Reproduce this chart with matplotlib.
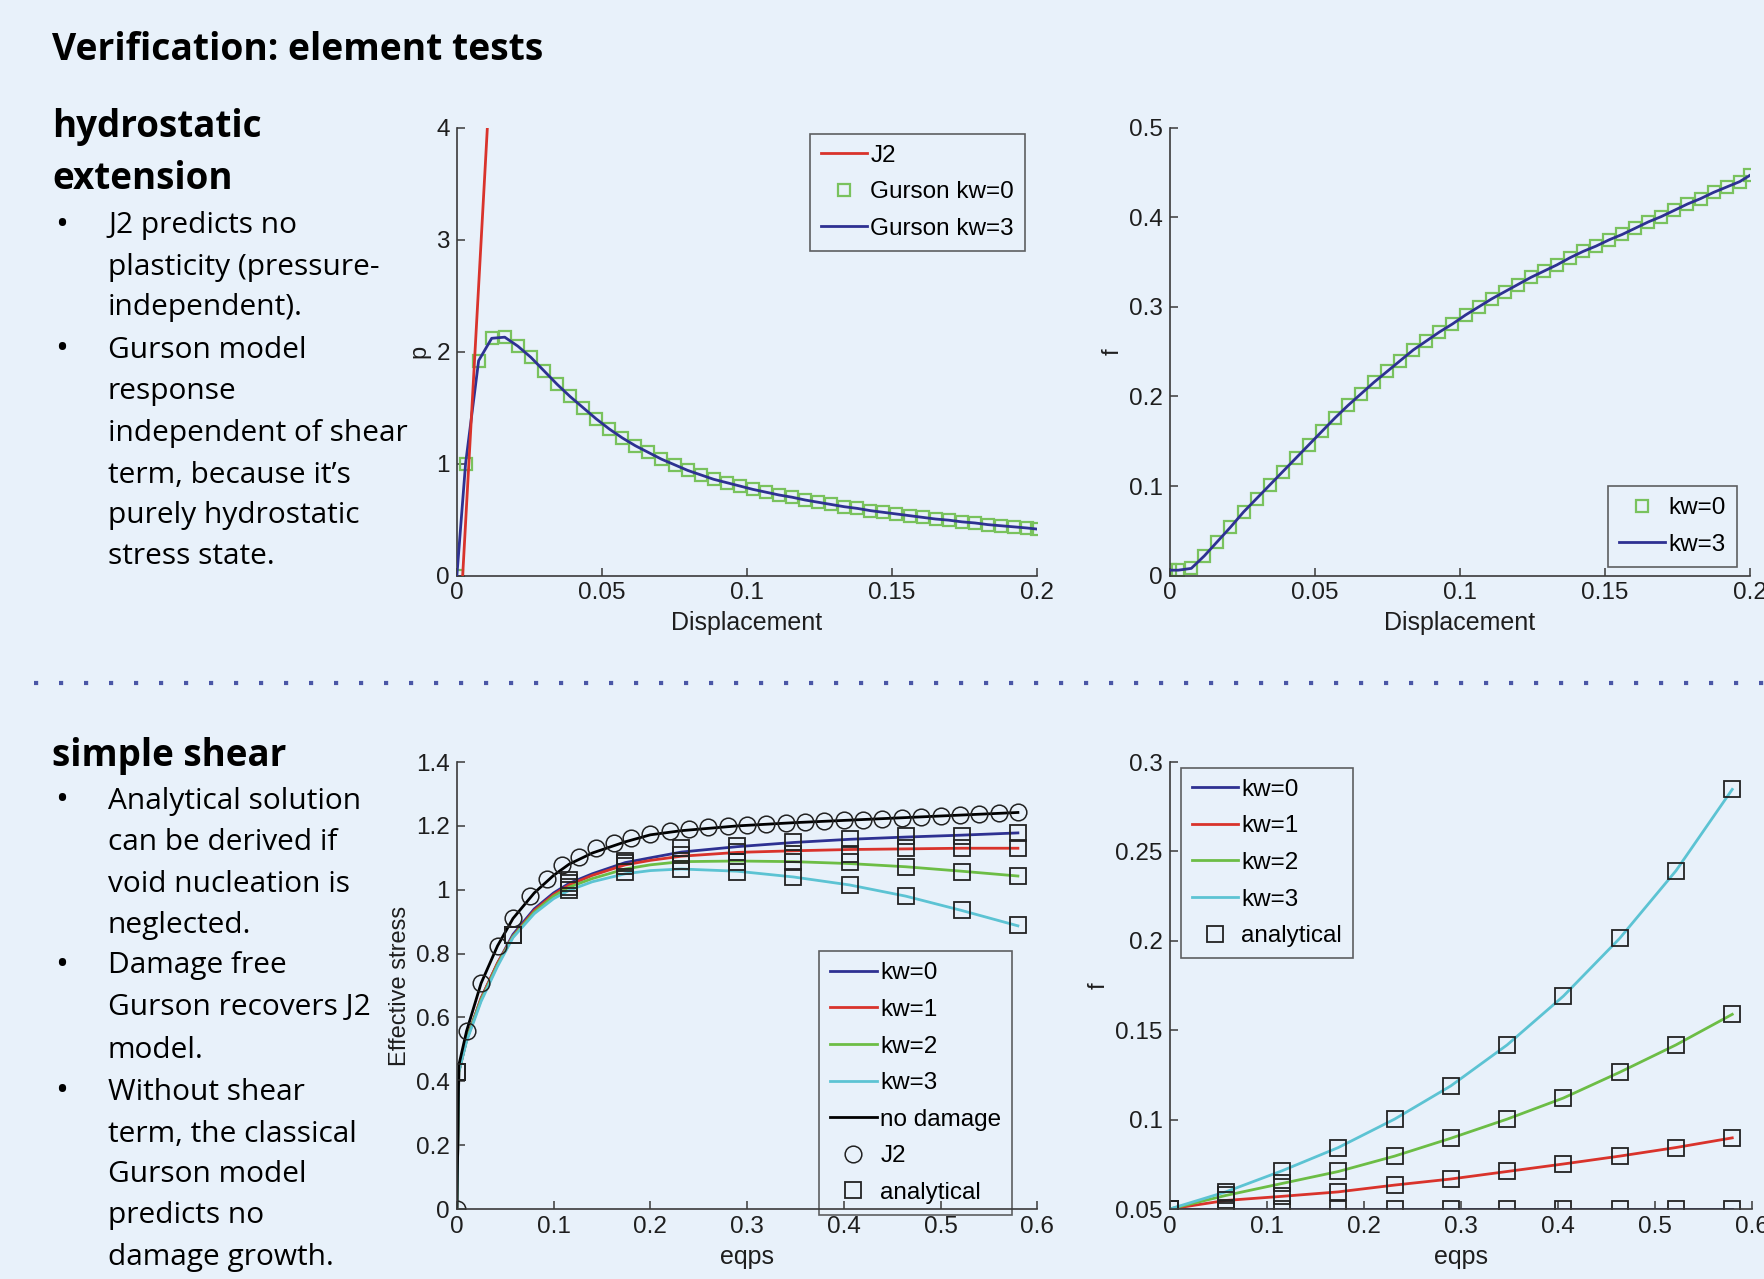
import matplotlib
matplotlib.use("Agg")
import matplotlib.pyplot as plt
from matplotlib.lines import Line2D

# ---- hydrostatic extension: p and f vs displacement (Gurson kw=0 == kw=3)
hyd_disp = [0, 0.003, 0.0075, 0.012, 0.0165, 0.021, 0.0255, 0.030, 0.0345, 0.039,
            0.0435, 0.048, 0.0525, 0.057, 0.0615, 0.066, 0.0705, 0.075, 0.0795, 0.084,
            0.0885, 0.093, 0.0975, 0.102, 0.1065, 0.111, 0.1155, 0.120, 0.1245, 0.129,
            0.1335, 0.138, 0.1425, 0.147, 0.1515, 0.156, 0.1605, 0.165, 0.1695, 0.174,
            0.1785, 0.183, 0.1875, 0.192, 0.1965, 0.2]
hyd_p = [0, 1.0, 1.92, 2.12, 2.13, 2.05, 1.95, 1.83, 1.71, 1.60,
         1.50, 1.40, 1.31, 1.23, 1.16, 1.10, 1.04, 0.99, 0.94, 0.90,
         0.86, 0.83, 0.80, 0.77, 0.745, 0.72, 0.70, 0.675, 0.655, 0.635,
         0.615, 0.60, 0.58, 0.565, 0.55, 0.535, 0.52, 0.505, 0.495, 0.48,
         0.47, 0.455, 0.445, 0.435, 0.425, 0.415]
hyd_f = [0.006, 0.006, 0.008, 0.022, 0.038, 0.054, 0.071, 0.086, 0.101, 0.116,
         0.131, 0.146, 0.161, 0.176, 0.19, 0.203, 0.216, 0.228, 0.240, 0.252,
         0.262, 0.272, 0.281, 0.291, 0.300, 0.309, 0.317, 0.325, 0.333, 0.340,
         0.347, 0.355, 0.362, 0.368, 0.375, 0.381, 0.388, 0.395, 0.401, 0.408,
         0.415, 0.421, 0.428, 0.434, 0.440, 0.447]
j2_disp = [0.002, 0.0105]
j2_p = [0, 4.0]

# ---- simple shear: effective stress and f vs eqps
line_eqps = [0, 0.002, 0.01, 0.025, 0.042, 0.058, 0.08, 0.1, 0.116, 0.14,
             0.174, 0.2, 0.232, 0.29, 0.348, 0.406, 0.464, 0.522, 0.58]
seff_nodmg = [0, 0.45, 0.557, 0.707, 0.824, 0.91, 0.99, 1.045, 1.08, 1.115,
              1.15, 1.172, 1.185, 1.2, 1.21, 1.218, 1.226, 1.234, 1.242]
seff_kw0 = [0, 0.43, 0.53, 0.66, 0.77, 0.86, 0.94, 0.99, 1.02, 1.05,
            1.085, 1.10, 1.118, 1.135, 1.148, 1.158, 1.165, 1.171, 1.178]
seff_kw1 = [0, 0.43, 0.53, 0.66, 0.77, 0.855, 0.935, 0.985, 1.015, 1.045,
            1.078, 1.092, 1.105, 1.117, 1.122, 1.126, 1.128, 1.13, 1.13]
seff_kw2 = [0, 0.43, 0.53, 0.655, 0.765, 0.853, 0.93, 0.98, 1.008, 1.035,
            1.065, 1.078, 1.088, 1.09, 1.088, 1.082, 1.072, 1.058, 1.043]
seff_kw3 = [0, 0.43, 0.525, 0.65, 0.76, 0.85, 0.925, 0.972, 0.998, 1.025,
            1.05, 1.06, 1.065, 1.058, 1.04, 1.015, 0.98, 0.935, 0.887]

j2_eqps = [0, 0.01, 0.025, 0.042, 0.0585, 0.076, 0.093, 0.109, 0.126, 0.144,
           0.162, 0.18, 0.2, 0.22, 0.24, 0.26, 0.28, 0.30, 0.32, 0.34,
           0.36, 0.38, 0.40, 0.42, 0.44, 0.46, 0.48, 0.50, 0.52, 0.54, 0.56, 0.58]
j2_seff = [0, 0.557, 0.707, 0.824, 0.91, 0.98, 1.033, 1.076, 1.103, 1.13,
           1.146, 1.163, 1.176, 1.184, 1.19, 1.195, 1.199, 1.202, 1.205, 1.208,
           1.211, 1.214, 1.217, 1.22, 1.223, 1.226, 1.229, 1.232, 1.235, 1.237, 1.24, 1.243]

ana_eqps = [0, 0.058, 0.116, 0.174, 0.232, 0.29, 0.348, 0.406, 0.464, 0.522, 0.58]
ana_seff = {
    0: [0.43, 0.857, 1.03, 1.09, 1.13, 1.137, 1.15, 1.16, 1.167, 1.169, 1.178],
    1: [0.43, 0.857, 1.02, 1.085, 1.11, 1.119, 1.113, 1.113, 1.13, 1.13, 1.13],
    2: [0.43, 0.857, 1.01, 1.075, 1.09, 1.087, 1.087, 1.087, 1.07, 1.055, 1.044],
    3: [0.43, 0.857, 1.0, 1.055, 1.065, 1.055, 1.039, 1.015, 0.98, 0.935, 0.889],
}
ana_f = {
    0: [0.05, 0.05, 0.05, 0.05, 0.05, 0.05, 0.05, 0.05, 0.05, 0.05, 0.05],
    1: [0.05, 0.0548, 0.0571, 0.0596, 0.0634, 0.0668, 0.071, 0.0752, 0.0796, 0.0844, 0.0898],
    2: [0.05, 0.0576, 0.0643, 0.071, 0.0796, 0.0896, 0.1003, 0.1121, 0.1265, 0.1418, 0.1589],
    3: [0.05, 0.0596, 0.0714, 0.0844, 0.1003, 0.1189, 0.1418, 0.1691, 0.2014, 0.2392, 0.2847],
}

kw_colors = {0: "#2e3192", 1: "#d9332b", 2: "#6cbd45", 3: "#5cc3d3"}
sq_green = "#79c25d"
axcol = "#3a3a3a"
bg = "#e8f1fa"
tick_font = "Liberation Sans"
txt_font = "Open Sans"

fig = plt.figure(figsize=(17.64, 12.79), dpi=100, facecolor=bg)


def style(ax, xt, yt, xl, yl):
    ax.set_facecolor("none")
    for s in ["top", "right"]:
        ax.spines[s].set_visible(False)
    for s in ["left", "bottom"]:
        ax.spines[s].set_color(axcol)
        ax.spines[s].set_linewidth(1.2)
    ax.set_xticks(xt)
    ax.set_yticks(yt)
    ax.set_xlim(xt[0], xt[-1])
    ax.set_ylim(yt[0], yt[-1])
    ax.tick_params(direction="in", length=6, width=1.1, colors=axcol,
                   labelcolor="#1e1e1e", labelsize=17.5, pad=5)
    for lab in ax.get_xticklabels() + ax.get_yticklabels():
        lab.set_fontfamily(tick_font)
    ax.set_xlabel(xl, fontsize=18, family=tick_font, color="#1e1e1e", labelpad=5)
    ax.set_ylabel(yl, fontsize=17, family=tick_font, color="#1e1e1e", labelpad=4)


def legend(ax, loc, anchor):
    lg = ax.legend(loc=loc, bbox_to_anchor=anchor, frameon=True, fancybox=False,
                   prop={"family": tick_font, "size": 17.5}, handlelength=1.9,
                   handletextpad=0.15, labelspacing=0.6, borderpad=0.45,
                   borderaxespad=0.0)
    lg.get_frame().set_facecolor("none")
    lg.get_frame().set_edgecolor(axcol)
    lg.get_frame().set_linewidth(1.2)
    return lg


W = 0.329
H = 0.350

# top left: p vs displacement
ax1 = fig.add_axes([0.259, 0.550, W, H])
ax1.plot(j2_disp, j2_p, color=kw_colors[1], lw=2, label="J2", zorder=4)
ax1.plot(hyd_disp, hyd_p, ls="none", marker="s", ms=9, mfc="none", mec=sq_green,
         mew=1.6, label="Gurson kw=0", zorder=2)
ax1.plot(hyd_disp, hyd_p, color=kw_colors[0], lw=2, label="Gurson kw=3", zorder=3)
style(ax1, [0, 0.05, 0.1, 0.15, 0.2], [0, 1, 2, 3, 4], "Displacement", "p")
ax1.set_xticklabels(["0", "0.05", "0.1", "0.15", "0.2"])
legend(ax1, "upper right", (0.979, 0.987))

# top right: f vs displacement
ax2 = fig.add_axes([0.663, 0.550, W, H])
ax2.plot(hyd_disp, hyd_f, ls="none", marker="s", ms=9, mfc="none", mec=sq_green,
         mew=1.6, label="kw=0", zorder=2)
ax2.plot(hyd_disp, hyd_f, color=kw_colors[0], lw=2, label="kw=3", zorder=3)
style(ax2, [0, 0.05, 0.1, 0.15, 0.2], [0, 0.1, 0.2, 0.3, 0.4, 0.5], "Displacement", "f")
ax2.set_xticklabels(["0", "0.05", "0.1", "0.15", "0.2"])
ax2.set_yticklabels(["0", "0.1", "0.2", "0.3", "0.4", "0.5"])
legend(ax2, "lower right", (0.978, 0.02))

# bottom left: effective stress vs eqps
ax3 = fig.add_axes([0.259, 0.0547, W, 0.3495])
for kw, ys in zip([0, 1, 2, 3], [seff_kw0, seff_kw1, seff_kw2, seff_kw3]):
    ax3.plot(line_eqps, ys, color=kw_colors[kw], lw=2, label=f"kw={kw}")
ax3.plot(line_eqps, seff_nodmg, color="black", lw=2, label="no damage")
ax3.plot(j2_eqps, j2_seff, ls="none", marker="o", ms=12, mfc="none", mec="#222222",
         mew=1.1, label="J2")
for kw in [0, 1, 2, 3]:
    ax3.plot(ana_eqps, ana_seff[kw], ls="none", marker="s", ms=12, mfc="none",
             mec="#222222", mew=1.3, label="analytical" if kw == 0 else None)
style(ax3, [0, 0.1, 0.2, 0.3, 0.4, 0.5, 0.6], [0, 0.2, 0.4, 0.6, 0.8, 1.0, 1.2, 1.4],
      "eqps", "Effective stress")
ax3.set_xticklabels(["0", "0.1", "0.2", "0.3", "0.4", "0.5", "0.6"])
ax3.set_yticklabels(["0", "0.2", "0.4", "0.6", "0.8", "1", "1.2", "1.4"])
legend(ax3, "lower right", (0.957, -0.013))

# bottom right: f vs eqps
ax4 = fig.add_axes([0.663, 0.0547, 0.330, 0.3495])
for kw in [0, 1, 2, 3]:
    ax4.plot(ana_eqps, ana_f[kw], color=kw_colors[kw], lw=2, label=f"kw={kw}")
for kw in [0, 1, 2, 3]:
    ax4.plot(ana_eqps, ana_f[kw], ls="none", marker="s", ms=12, mfc="none",
             mec="#222222", mew=1.3, label="analytical" if kw == 0 else None)
style(ax4, [0, 0.1, 0.2, 0.3, 0.4, 0.5, 0.6], [0.05, 0.1, 0.15, 0.2, 0.25, 0.3],
      "eqps", "f")
ax4.set_xticklabels(["0", "0.1", "0.2", "0.3", "0.4", "0.5", "0.6"])
ax4.set_yticklabels(["0.05", "0.1", "0.15", "0.2", "0.25", "0.3"])
legend(ax4, "upper left", (0.019, 0.987))

# ---- slide text
W_PX, H_PX = 1764, 1279


def put(x, y, s, size, bold=False):
    fig.text(x / W_PX, 1 - y / H_PX, s, fontsize=size, family=txt_font,
             fontweight="bold" if bold else "normal", color="black", va="center")


put(52, 50, "Verification: element tests", 26.8, bold=True)
put(52, 127, "hydrostatic", 26.5, bold=True)
put(52, 179, "extension", 26.5, bold=True)
put(52, 756, "simple shear", 26.5, bold=True)

hyd_lines = [(226, "J2 predicts no", True), (267, "plasticity (pressure-", False),
             (307, "independent).", False), (350, "Gurson model", True),
             (392, "response", False), (433, "independent of shear", False),
             (475, "term, because it\u2019s", False), (516, "purely hydrostatic", False),
             (557, "stress state.", False)]
shear_lines = [(801, "Analytical solution", True), (843, "can be derived if", False),
               (884, "void nucleation is", False), (926, "neglected.", False),
               (966, "Damage free", True), (1008, "Gurson recovers J2", False),
               (1050, "model.", False), (1092, "Without shear", True),
               (1134, "term, the classical", False), (1175, "Gurson model", False),
               (1216, "predicts no", False), (1258, "damage growth.", False)]
for y, s, bullet in hyd_lines + shear_lines:
    if bullet:
        put(55, y, "\u2022", 25)
    put(108, y, s, 21.5)

# dotted separator
fig.add_artist(Line2D([34 / W_PX, 1.0], [1 - 683 / H_PX] * 2, color="#4a56a6",
                      lw=3, ls=(0, (1, 5)), solid_capstyle="butt",
                      dash_capstyle="butt", transform=fig.transFigure))

fig.savefig("out.png", dpi=100, facecolor=bg)
